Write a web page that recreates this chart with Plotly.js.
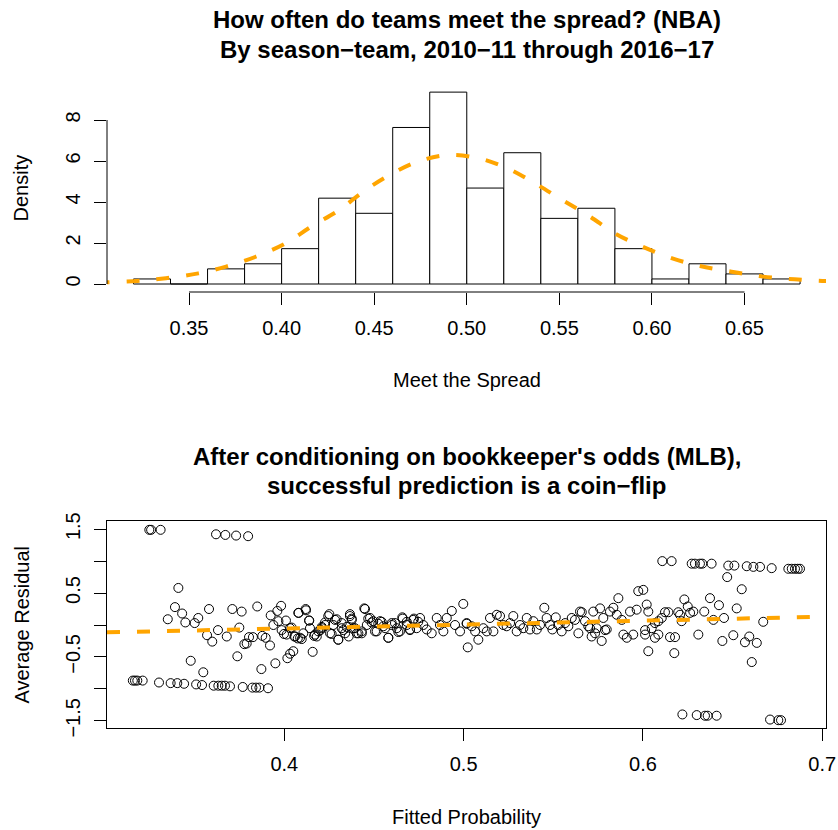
<!DOCTYPE html>
<html>
<head>
<meta charset="utf-8">
<script src="https://cdn.plot.ly/plotly-3.0.1.min.js"></script>
<style>html,body{margin:0;padding:0;background:#fff;}</style>
</head>
<body>
<div id="chart" style="width:838px;height:830px;"></div>
<script>
// ---- Panel 1: histogram of "Meet the Spread" (NBA season-teams) ----
const binEdges = [0.32,0.34,0.36,0.38,0.40,0.42,0.44,0.46,0.48,0.50,0.52,0.54,0.56,0.58,0.60,0.62,0.64,0.66,0.68];
const binCounts = [1,0,3,4,7,17,14,31,38,19,26,13,15,7,1,4,2,1];

// dashed density curve
const curveX = [0.300,0.322,0.3375,0.355,0.370,0.386,0.402,0.416,0.431,0.444,0.458,0.4735,0.490,0.5065,0.522,0.537,0.551,0.566,0.580,0.595,0.611,0.626,0.643,0.660,0.677,0.692,0.700];
const curveY = [0.07,0.15,0.28,0.52,0.85,1.33,1.98,2.80,3.60,4.50,5.30,5.97,6.29,6.13,5.64,4.90,4.13,3.32,2.47,1.82,1.25,0.88,0.60,0.36,0.23,0.15,0.13];

const histXTicks = [0.35,0.40,0.45,0.50,0.55,0.60,0.65];
const histXLabels = ["0.35","0.40","0.45","0.50","0.55","0.60","0.65"];
const histYTicks = [0,2,4,6,8];

// ---- Panel 2: residual vs fitted probability (MLB) ----
const fittedProb = [
0.3247,0.3257,0.331,0.3619,0.3671,0.3731,0.3798,
0.3155,0.3167,0.318,0.321,0.3301,0.3366,0.3403,0.3441,0.3508,0.3541,0.3606,0.3632,0.3651,0.3669,0.3697,0.3768,0.3822,0.3842,0.3861,0.3909,
0.335,0.339,0.3409,0.343,0.3448,0.3478,0.35,0.352,0.3548,0.3569,0.358,0.3598,0.363,0.3679,0.371,0.3738,0.3749,0.3762,0.3777,0.379,0.3803,0.3825,0.3849,0.3872,0.3877,0.3896,0.392,0.3924,0.3939,0.395,0.3961,0.3982,0.3967,0.3985,0.3998,0.4009,0.4017,0.4032,0.405,0.4041,0.4056,0.4075,0.4097,0.408,0.4121,0.4139,0.4158,0.4166,0.4181,0.4201,0.4209,0.4227,0.4251,0.4264,0.4273,0.4292,0.4301,0.432,0.4329,0.4348,0.4359,0.4366,0.4376,0.4394,0.4413,0.4432,0.445,0.4468,0.4487,0.4506,0.4524,0.4543,0.4562,0.458,0.4599,0.4617,0.4636,0.466,0.4683,0.4701,0.4723,0.4747,
0.4078,0.4119,0.4138,0.4013,0.4032,0.406,0.4088,0.4106,0.4143,0.4171,0.419,0.4209,0.4227,0.4245,0.4255,0.4283,0.4301,0.432,0.4339,0.4366,0.4376,0.4385,0.4404,0.4432,0.4446,0.446,0.4478,0.4496,0.4515,0.4534,0.4552,0.458,0.4599,0.4627,0.4645,0.4658,0.4683,0.4701,0.4719,0.4738,0.4757,0.4775,0.4794,0.4822,0.485,0.4868,0.4887,0.4906,0.4934,0.4952,0.498,0.4998,0.5017,0.5023,
0.5017,0.5045,0.5064,0.5082,0.511,0.5129,0.5147,0.5166,0.5185,0.5203,0.5221,0.524,0.5259,0.5277,0.5296,0.5314,0.5333,0.5352,0.537,0.5389,0.5408,0.5426,0.545,0.5463,0.5482,0.5495,0.5514,0.5528,0.5547,0.5566,0.5584,0.5603,0.5621,0.564,0.5659,0.5677,0.5695,0.5714,0.5733,0.5742,0.5761,0.577,0.5779,0.5798,0.5816,0.5835,0.5854,0.5863,0.5882,0.5891,0.591,0.5928,0.5946,0.5965,0.5974,0.6002,0.6012,0.6021,0.603,
0.5649,0.5705,0.5723,0.5789,0.6012,0.603,
0.6108,0.616,0.6272,0.629,0.6318,0.6331,0.6383,0.6476,0.651,0.6579,0.6616,0.6653,0.6718,0.6811,0.683,0.6848,0.6863,0.6876,0.647,0.6551,
0.622,0.63,0.6346,0.6361,0.6411,0.6709,0.6755,0.677,
0.6049,0.6067,0.6067,0.6086,0.6086,0.6105,0.6123,0.6142,0.6151,0.6179,0.6175,0.6197,0.6207,0.6216,0.6231,0.625,0.6263,0.6281,0.6309,0.6342,0.6374,0.6393,0.6424,0.6443,0.6452,0.6504,0.6523,0.6569,0.6593,0.6607,0.6635,0.6671
];
const avgResidual = [
1.49,1.49,1.49,1.42,1.41,1.40,1.39,
-0.87,-0.87,-0.87,-0.87,-0.90,-0.91,-0.91,-0.92,-0.93,-0.94,-0.95,-0.95,-0.95,-0.95,-0.96,-0.97,-0.98,-0.98,-0.98,-0.99,
0.09,0.28,0.58,0.18,0.04,-0.56,0.03,0.11,-0.74,-0.16,0.25,-0.26,-0.08,-0.18,0.25,-0.49,-0.04,0.21,-0.30,-0.29,-0.19,-0.19,0.29,-0.69,-0.17,-0.20,-0.32,0.15,0.0,-0.60,0.22,0.30,0.06,-0.08,-0.14,0.07,-0.52,-0.45,-0.41,-0.04,-0.18,-0.21,-0.22,0.19,0.23,0.07,-0.42,-0.17,-0.18,-0.08,-0.03,0.04,0.17,-0.14,0.0,0.09,-0.23,0.03,-0.08,-0.03,-0.18,0.17,0.10,-0.05,-0.13,-0.10,0.25,0.10,0.04,-0.10,0.02,0.05,-0.05,-0.20,0.0,0.03,-0.11,0.10,0.05,-0.08,0.10,0.05,
0.19,0.25,0.07,-0.15,-0.05,-0.18,-0.20,-0.13,-0.05,-0.15,-0.10,-0.05,0.0,0.14,-0.13,0.08,-0.23,-0.05,-0.13,0.14,0.08,-0.05,-0.13,-0.13,0.26,0.0,0.11,0.06,-0.10,0.06,-0.02,-0.20,0.03,-0.05,-0.10,0.12,0.0,-0.07,0.08,-0.05,0.11,0.0,-0.07,-0.13,0.11,0.0,-0.10,0.11,0.22,0.0,-0.10,0.33,0.03,-0.35,
0.02,-0.02,-0.10,-0.23,-0.05,-0.10,0.11,-0.10,0.16,0.14,0.0,-0.02,0.03,0.14,-0.10,0.0,-0.05,0.11,-0.07,0.06,-0.07,0.0,0.27,0.11,0.0,-0.07,0.12,0.0,-0.10,0.03,-0.02,0.11,0.08,-0.13,0.20,0.06,-0.02,-0.18,-0.13,-0.05,0.26,-0.25,0.11,-0.07,0.21,0.27,0.16,0.42,0.08,-0.15,-0.20,0.21,-0.15,0.24,0.53,0.55,-0.15,0.32,-0.41,
0.21,-0.05,0.21,-0.08,-0.08,0.21,
1.0,1.0,0.96,0.96,0.96,0.96,0.96,0.93,0.93,0.92,0.91,0.91,0.89,0.88,0.88,0.88,0.88,0.88,0.75,0.56,
-1.40,-1.41,-1.42,-1.42,-1.42,-1.48,-1.49,-1.49,
-0.05,-0.20,0.03,-0.15,0.06,0.11,0.20,0.20,-0.19,-0.19,-0.44,0.20,0.16,0.06,0.40,0.29,0.19,0.21,-0.15,0.21,0.42,0.08,0.31,-0.25,0.11,-0.16,0.26,-0.27,-0.18,-0.58,-0.28,0.05
];
// dashed fitted line endpoints, read at the plot edges
const fitLineX = [0.3011,0.7021];
const fitLineY = [-0.115,0.13];

const scatXTicks = [0.4,0.5,0.6,0.7];
const scatXLabels = ["0.4","0.5","0.6","0.7"];
const scatYTicks = [-1.5,-1,-0.5,0,0.5,1,1.5];
const scatYLabels = ["\u22121.5","","\u22120.5","","0.5","","1.5"];

// ---- derived bar geometry ----
const nTotal = binCounts.reduce((a,b)=>a+b,0);
const barCenters = [], barWidths = [], barDensity = [];
for (let i = 0; i < binCounts.length; i++) {
  const w = binEdges[i+1] - binEdges[i];
  barCenters.push((binEdges[i] + binEdges[i+1]) / 2);
  barWidths.push(w);
  barDensity.push(binCounts[i] / (nTotal * w));
}

const FONT = "Liberation Sans, Arial, Helvetica, sans-serif";
const ORANGE = "#FFA500";
const W = 838, H = 830;
const px2x = p => p / W;
const py2y = p => 1 - p / H;

const traces = [
  { type: "bar", x: barCenters, y: barDensity, width: barWidths,
    marker: { color: "white", line: { color: "black", width: 1 } },
    xaxis: "x", yaxis: "y", hoverinfo: "skip" },
  { type: "scatter", mode: "lines", x: curveX, y: curveY,
    line: { color: ORANGE, width: 4, dash: "13px,17px", shape: "spline", smoothing: 1 },
    xaxis: "x", yaxis: "y", hoverinfo: "skip" },
  { type: "scatter", mode: "markers", x: fittedProb, y: avgResidual,
    marker: { symbol: "circle-open", size: 9, color: "black", line: { width: 1, color: "black" } },
    xaxis: "x2", yaxis: "y2", hoverinfo: "skip" },
  { type: "scatter", mode: "lines", x: fitLineX, y: fitLineY,
    line: { color: ORANGE, width: 4, dash: "13px,17px" },
    xaxis: "x2", yaxis: "y2", hoverinfo: "skip" }
];

const tickFont = { family: FONT, size: 20, color: "black" };
const commonAxis = { ticks: "outside", ticklen: 12, tickwidth: 1, tickcolor: "black",
  showgrid: false, zeroline: false, tickfont: tickFont, fixedrange: true };

const layout = {
  width: W, height: H,
  margin: { l: 0, r: 0, t: 0, b: 0 },
  paper_bgcolor: "white", plot_bgcolor: "white",
  showlegend: false,
  bargap: 0,
  xaxis: Object.assign({}, commonAxis, {
    domain: [px2x(107), px2x(826)], range: [0.3057, 0.6940], anchor: "y",
    tickmode: "array", tickvals: histXTicks, ticktext: histXLabels, showline: false,
    ticklabelstandoff: 6 }),
  yaxis: Object.assign({}, commonAxis, {
    domain: [py2y(292), py2y(85)], range: [-0.390, 9.707], anchor: "x",
    tickmode: "array", tickvals: histYTicks, ticktext: histYTicks.map(String),
    tickangle: -90, showline: false, ticklabelstandoff: 6 }),
  xaxis2: Object.assign({}, commonAxis, {
    domain: [px2x(107), px2x(826)], range: [0.3011, 0.7021], anchor: "y2",
    tickmode: "array", tickvals: scatXTicks, ticktext: scatXLabels,
    showline: true, mirror: true, linecolor: "black", linewidth: 1, ticklabelstandoff: 6 }),
  yaxis2: Object.assign({}, commonAxis, {
    domain: [py2y(728.3), py2y(521)], range: [-1.617, 1.628], anchor: "x2",
    tickmode: "array", tickvals: scatYTicks, ticktext: scatYLabels, tickangle: -90,
    showline: true, mirror: true, linecolor: "black", linewidth: 1, ticklabelstandoff: 6 }),
  shapes: [
    { type: "line", xref: "x", yref: "y domain", x0: histXTicks[0], x1: histXTicks[histXTicks.length-1], y0: 0, y1: 0,
      line: { color: "black", width: 1 } },
    { type: "line", xref: "x domain", yref: "y", x0: 0, x1: 0, y0: histYTicks[0], y1: histYTicks[histYTicks.length-1],
      line: { color: "black", width: 1 } }
  ],
  annotations: [
    { text: "<b>How often do teams meet the spread? (NBA)</b>", x: px2x(466.5), y: py2y(19.5),
      xref: "paper", yref: "paper", xanchor: "center", yanchor: "middle", showarrow: false,
      font: { family: FONT, size: 24, color: "black" } },
    { text: "<b>By season\u2212team, 2010\u221211 through 2016\u221217</b>", x: px2x(466.5), y: py2y(49),
      xref: "paper", yref: "paper", xanchor: "center", yanchor: "middle", showarrow: false,
      font: { family: FONT, size: 24, color: "black" } },
    { text: "Meet the Spread", x: px2x(466.5), y: py2y(380),
      xref: "paper", yref: "paper", xanchor: "center", yanchor: "middle", showarrow: false,
      font: { family: FONT, size: 20, color: "black" } },
    { text: "Density", x: px2x(21), y: py2y(188.5), textangle: -90,
      xref: "paper", yref: "paper", xanchor: "center", yanchor: "middle", showarrow: false,
      font: { family: FONT, size: 20, color: "black" } },
    { text: "<b>After conditioning on bookkeeper's odds (MLB),</b>", x: px2x(466.5), y: py2y(456.5),
      xref: "paper", yref: "paper", xanchor: "center", yanchor: "middle", showarrow: false,
      font: { family: FONT, size: 24, color: "black" } },
    { text: "<b>successful prediction is a coin\u2212flip</b>", x: px2x(466.5), y: py2y(485.5),
      xref: "paper", yref: "paper", xanchor: "center", yanchor: "middle", showarrow: false,
      font: { family: FONT, size: 24, color: "black" } },
    { text: "Fitted Probability", x: px2x(466.5), y: py2y(817),
      xref: "paper", yref: "paper", xanchor: "center", yanchor: "middle", showarrow: false,
      font: { family: FONT, size: 20, color: "black" } },
    { text: "Average Residual", x: px2x(21), y: py2y(624.5), textangle: -90,
      xref: "paper", yref: "paper", xanchor: "center", yanchor: "middle", showarrow: false,
      font: { family: FONT, size: 20, color: "black" } }
  ]
};

Plotly.newPlot("chart", traces, layout, { staticPlot: true, displayModeBar: false });
</script>
</body>
</html>
